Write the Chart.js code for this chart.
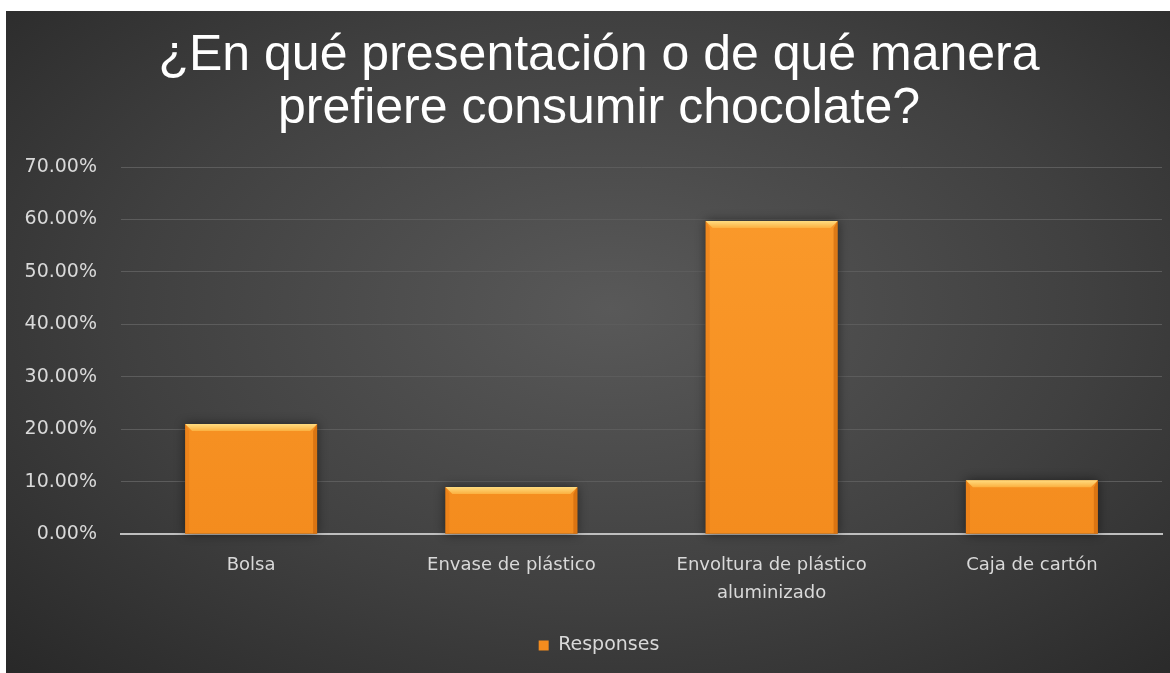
<!DOCTYPE html>
<html lang="es">
<head>
    <meta charset="UTF-8">
    <title>Presentación de chocolate</title>
    <script src="https://cdn.jsdelivr.net/npm/chart.js@4.4.1/dist/chart.umd.min.js"></script>
    <style>
        html, body {
            margin: 0;
            padding: 0;
            background: #ffffff;
            overflow: hidden;
        }
        .chart-box {
            position: absolute;
            left: 6px;
            top: 11px;
            width: 1164px;
            height: 662px;
            overflow: hidden;
            background: radial-gradient(ellipse 75% 80% at 52% 45%, #595959 0%, #404040 55%, #272727 100%);
        }
        /* canvas runs a little past the right edge so the title sits right of centre */
        #chocoChart {
            position: absolute;
            left: 0;
            top: 0;
        }
    </style>
</head>
<body>
    <div class="chart-box">
        <canvas id="chocoChart" width="1194" height="662"></canvas>
    </div>

    <script>
        // Chart data
        const titleLines = ['¿En qué presentación o de qué manera', 'prefiere consumir chocolate?'];
        const categories = ['Bolsa', 'Envase de plástico', ['Envoltura de plástico', 'aluminizado'], 'Caja de cartón'];
        const responses = [21.0, 9.0, 59.7, 10.3];
        const seriesName = 'Responses';
        const yTicks = [0, 10, 20, 30, 40, 50, 60, 70];

        const labelColor = '#d9d9d9';
        const titleFont = '"Liberation Sans", Arial, sans-serif';
        const labelFont = '"DejaVu Sans", Verdana, sans-serif';

        // Orange bar fill with a soft vertical shade
        function barFill(context) {
            const chart = context.chart;
            const area = chart.chartArea;
            if (!area) return '#f7931e';
            const g = chart.ctx.createLinearGradient(0, area.top, 0, area.bottom);
            g.addColorStop(0, '#fb9b2c');
            g.addColorStop(1, '#f48c1e');
            return g;
        }

        // Bevel look on each bar: light top edge, darker sides, dark halo
        const bevelPlugin = {
            id: 'bevel',
            beforeDatasetsDraw(chart) {
                const ctx = chart.ctx;
                chart.getDatasetMeta(0).data.forEach(bar => {
                    const left = bar.x - bar.width / 2;
                    ctx.save();
                    ctx.shadowColor = 'rgba(0,0,0,0.55)';
                    ctx.shadowBlur = 10;
                    ctx.fillStyle = 'rgba(40,40,40,0.9)';
                    ctx.fillRect(left, bar.y, bar.width, bar.base - bar.y);
                    ctx.restore();
                });
            },
            afterDatasetsDraw(chart) {
                const ctx = chart.ctx;
                chart.getDatasetMeta(0).data.forEach(bar => {
                    const left = bar.x - bar.width / 2;
                    const right = bar.x + bar.width / 2;
                    const top = bar.y;
                    const base = bar.base;
                    const b = 7;
                    ctx.save();
                    // top highlight
                    const tg = ctx.createLinearGradient(0, top, 0, top + b);
                    tg.addColorStop(0, '#ffdc80');
                    tg.addColorStop(1, '#fbb040');
                    ctx.fillStyle = tg;
                    ctx.beginPath();
                    ctx.moveTo(left, top);
                    ctx.lineTo(right, top);
                    ctx.lineTo(right - b, top + b);
                    ctx.lineTo(left + b, top + b);
                    ctx.closePath();
                    ctx.fill();
                    // left edge
                    ctx.fillStyle = 'rgba(230,120,20,0.5)';
                    ctx.beginPath();
                    ctx.moveTo(left, top);
                    ctx.lineTo(left + 4, top + b);
                    ctx.lineTo(left + 4, base);
                    ctx.lineTo(left, base);
                    ctx.closePath();
                    ctx.fill();
                    // right edge
                    ctx.fillStyle = 'rgba(200,100,10,0.6)';
                    ctx.beginPath();
                    ctx.moveTo(right, top);
                    ctx.lineTo(right - 4, top + b);
                    ctx.lineTo(right - 4, base);
                    ctx.lineTo(right, base);
                    ctx.closePath();
                    ctx.fill();
                    ctx.restore();
                });
            }
        };

        new Chart(document.getElementById('chocoChart'), {
            type: 'bar',
            data: {
                labels: categories,
                datasets: [{
                    label: seriesName,
                    data: responses,
                    backgroundColor: barFill,
                    borderWidth: 0,
                    barPercentage: 0.507,
                    categoryPercentage: 1.0
                }]
            },
            options: {
                responsive: false,
                animation: false,
                layout: {
                    padding: { left: 0, right: 8, top: 0, bottom: 8 }
                },
                scales: {
                    y: {
                        min: 0,
                        max: 70,
                        afterFit(axis) { axis.width = 115; },
                        afterBuildTicks(axis) {
                            axis.ticks = yTicks.map(v => ({ value: v }));
                        },
                        border: { display: false },
                        grid: {
                            color: ctx => ctx.tick.value === 0 ? 'rgba(0,0,0,0)' : '#5c5c5c',
                            lineWidth: 1,
                            drawTicks: false
                        },
                        ticks: {
                            color: labelColor,
                            padding: 24,
                            font: { family: labelFont, size: 19 },
                            callback: v => v.toFixed(2) + '%'
                        }
                    },
                    // empty spacer on the right, keeps the plot edge while the title centres wider
                    spacer: {
                        type: 'linear',
                        position: 'right',
                        afterFit(axis) { axis.width = 30; },
                        border: { display: false },
                        grid: { display: false },
                        ticks: { display: false }
                    },
                    x: {
                        border: { display: true, color: '#bfbfbf', width: 2 },
                        grid: { display: false, drawTicks: false },
                        ticks: {
                            color: labelColor,
                            padding: 17,
                            maxRotation: 0,
                            font: { family: labelFont, size: 18, lineHeight: 1.55 }
                        }
                    }
                },
                plugins: {
                    title: {
                        display: true,
                        text: titleLines,
                        color: '#ffffff',
                        font: { family: titleFont, size: 50, weight: 'normal', lineHeight: 1.06 },
                        padding: { top: 19, bottom: 31 }
                    },
                    legend: {
                        display: true,
                        position: 'bottom',
                        labels: {
                            color: labelColor,
                            boxWidth: 10,
                            boxHeight: 10,
                            padding: 12,
                            font: { family: labelFont, size: 19 }
                        }
                    },
                    tooltip: { enabled: false }
                }
            },
            plugins: [bevelPlugin]
        });
    </script>
</body>
</html>
